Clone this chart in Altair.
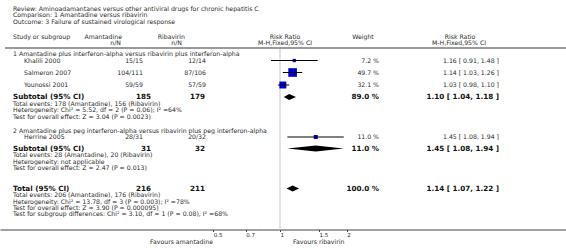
import altair as alt
import pandas as pd

W, H = 566, 248

# ---------------- data ----------------
title_lines = [
    "Review:  Aminoadamantanes versus other antiviral drugs for chronic hepatitis C",
    "Comparison:  1 Amantadine versus ribavirin",
    "Outcome:  3 Failure of sustained virological response",
]
group_titles = [
    "1 Amantadine plus interferon-alpha versus ribavirin plus interferon-alpha",
    "2 Amantadine plus peg interferon-alpha versus ribavirin plus peg interferon-alpha",
]
studies = ["Khalili 2000", "Salmeron 2007", "Younossi 2001", "Herrine 2005"]
aman_nN = ["15/15", "104/111", "59/59", "28/31"]
riba_nN = ["12/14", "87/106", "57/59", "20/32"]
weights = [7.2, 49.7, 32.1, 11.0]
rr = [1.16, 1.14, 1.03, 1.45]
rr_lo = [0.91, 1.03, 0.98, 1.08]
rr_hi = [1.48, 1.26, 1.10, 1.94]

sum_labels = ["Subtotal (95% CI)", "Subtotal (95% CI)", "Total (95% CI)"]
sum_aman = [185, 31, 216]
sum_riba = [179, 32, 211]
sum_w = [89.0, 11.0, 100.0]
sum_rr = [1.10, 1.45, 1.14]
sum_lo = [1.04, 1.08, 1.07]
sum_hi = [1.18, 1.94, 1.22]

info_g1 = [
    "Total events: 178 (Amantadine), 156 (Ribavirin)",
    "Heterogeneity: Chi² = 5.52, df = 2 (P = 0.06); I² =64%",
    "Test for overall effect: Z = 3.04 (P = 0.0023)",
]
info_g2 = [
    "Total events: 28 (Amantadine), 20 (Ribavirin)",
    "Heterogeneity: not applicable",
    "Test for overall effect: Z = 2.47 (P = 0.013)",
]
info_tot = [
    "Total events: 206 (Amantadine), 176 (Ribavirin)",
    "Heterogeneity: Chi² = 13.78, df = 3 (P = 0.003); I² =78%",
    "Test for overall effect: Z = 3.90 (P = 0.000095)",
    "Test for subgroup differences: Chi² = 3.10, df = 1 (P = 0.08), I² =68%",
]
tick_values = [0.5, 0.7, 1, 1.5, 2]

# ---------------- layout (pixel rows / columns) ----------------
y_titles = [8.5, 15, 21.5]
y_head1, y_head2, y_sep = 36.5, 42.5, 48
y_groups = [54, 131]
y_studies = [60.5, 72.5, 85, 137]
y_sums = [97, 148.5, 188.5]
LS, FIRST = 6.3, 6.9
y_info_g1 = [y_sums[0] + FIRST + LS * k for k in range(3)]
y_info_g2 = [y_sums[1] + FIRST + LS * k for k in range(3)]
y_info_tot = [y_sums[2] + FIRST + LS * k for k in range(4)]
y_axis = 229.5
y_fav = 241.5

X_LEFT, X_INDENT = 13, 24
X_AMAN, X_RIBA = 143, 206
X_AMAN_B, X_RIBA_B = 151, 205
X_W, X_RR = 379, 499

FONT = "DejaVu Sans"
REG, BOLD = 6.2, 7.2
TXT = "#2a2a2a"
TXT_B = "#111111"

xpix = alt.Scale(domain=[0, W], nice=False, zero=False)
ypix = alt.Scale(domain=[0, H], reverse=True, nice=False, zero=False)
PX_PER_DOUBLING = 66.67
X_ONE = 280
xlog = alt.Scale(type="log", nice=False,
                 domain=[2 ** (-X_ONE / PX_PER_DOUBLING), 2 ** ((W - X_ONE) / PX_PER_DOUBLING)])


def tlayer(rows, align, bold=False, size=REG, color=TXT):
    df = pd.DataFrame(rows, columns=["x", "y", "t"])
    return alt.Chart(df).mark_text(
        align=align, baseline="middle", font=FONT, fontSize=size,
        fontWeight="bold" if bold else "normal", color=color, fill=color
    ).encode(
        x=alt.X("x:Q", scale=xpix, axis=None),
        y=alt.Y("y:Q", scale=ypix, axis=None),
        text="t:N",
    )


left_reg, right_reg, center_reg, left_bold, right_bold = [], [], [], [], []

for t, y in zip(title_lines, y_titles):
    left_reg.append((X_LEFT, y, t))
left_reg.append((X_LEFT, y_head1, "Study or subgroup"))
right_reg += [(122, y_head1, "Amantadine"), (121, y_head2, "n/N"),
              (185, y_head1, "Ribavirin"), (182, y_head2, "n/N")]
center_reg += [(285, y_head1, "Risk Ratio"), (285, y_head2, "M-H,Fixed,95% CI"),
               (363, y_head1, "Weight"),
               (460, y_head1, "Risk Ratio"), (459, y_head2, "M-H,Fixed,95% CI")]
for t, y in zip(group_titles, y_groups):
    left_reg.append((X_LEFT, y, t))
for i, y in enumerate(y_studies):
    left_reg.append((X_INDENT, y, studies[i]))
    right_reg.append((X_AMAN, y, aman_nN[i]))
    right_reg.append((X_RIBA, y, riba_nN[i]))
    right_reg.append((X_W, y, f"{weights[i]:.1f} %"))
    right_reg.append((X_RR, y, f"{rr[i]:.2f} [ {rr_lo[i]:.2f}, {rr_hi[i]:.2f} ]"))
for i, y in enumerate(y_sums):
    left_bold.append((X_LEFT, y, sum_labels[i]))
    right_bold.append((X_AMAN_B, y, str(sum_aman[i])))
    right_bold.append((X_RIBA_B, y, str(sum_riba[i])))
    right_bold.append((X_W, y, f"{sum_w[i]:.1f} %"))
    right_bold.append((X_RR, y, f"{sum_rr[i]:.2f} [ {sum_lo[i]:.2f}, {sum_hi[i]:.2f} ]"))
for lines, ys in ((info_g1, y_info_g1), (info_g2, y_info_g2), (info_tot, y_info_tot)):
    for t, y in zip(lines, ys):
        left_reg.append((X_LEFT, y, t))
right_reg.append((213, y_fav, "Favours amantadine"))
left_reg.append((293, y_fav, "Favours ribavirin"))

texts = [
    tlayer(left_reg, "left"),
    tlayer(right_reg, "right"),
    tlayer(center_reg, "center"),
    tlayer(left_bold, "left", bold=True, size=BOLD, color=TXT_B),
    tlayer(right_bold, "right", bold=True, size=BOLD, color=TXT_B),
]

# header separator
sep = alt.Chart(pd.DataFrame({"a": [0]})).mark_rule(color="#9a9a9a", strokeWidth=2).encode(
    x=alt.value(5), x2=alt.value(W), y=alt.value(y_sep))

# reference line at RR = 1 carrying the log axis
ref = alt.Chart(pd.DataFrame({"x": [1], "y1": [y_sep + 1], "y2": [y_axis]})).mark_rule(
    color="#d8d8d8", strokeWidth=1.5
).encode(
    x=alt.X("x:Q", scale=xlog, axis=alt.Axis(
        values=tick_values, format="~g", orient="bottom", offset=-(H - y_axis),
        tickSize=2, tickColor="#444444", domainColor="#444444", domainWidth=1,
        labelColor=TXT, labelFont=FONT, labelFontSize=5.5, labelAlign="left",
        labelPadding=0.5, labelFlush=False, labelOverlap=False, grid=False, title=None)),
    y=alt.Y("y1:Q", scale=ypix, axis=None),
    y2="y2:Q",
)

sdf = pd.DataFrame({"lo": rr_lo, "hi": rr_hi, "rr": rr, "w": weights, "y": y_studies})
squares = alt.Chart(sdf).mark_square(filled=True, color="#0000cc", opacity=1).encode(
    x=alt.X("rr:Q", scale=xlog, axis=None),
    y=alt.Y("y:Q", scale=ypix, axis=None),
    size=alt.Size("w:Q", scale=alt.Scale(domain=[0, 100], range=[0, 150]), legend=None),
)
ci = alt.Chart(sdf).mark_rule(color="#000000", strokeWidth=1).encode(
    x=alt.X("lo:Q", scale=xlog, axis=None), x2="hi:Q",
    y=alt.Y("y:Q", scale=ypix, axis=None),
)

DH = 3
drows = []
for i, y in enumerate(y_sums):
    drows += [(i, sum_lo[i], y, y), (i, sum_rr[i], y - DH, y + DH), (i, sum_hi[i], y, y)]
ddf = pd.DataFrame(drows, columns=["g", "x", "y", "y2"])
diamonds = alt.Chart(ddf).mark_area(color="#000000", interpolate="linear", opacity=1).encode(
    x=alt.X("x:Q", scale=xlog, axis=None),
    y=alt.Y("y:Q", scale=ypix, axis=None), y2="y2:Q",
    detail="g:N",
)

chart = alt.layer(sep, ref, squares, ci, diamonds, *texts).resolve_scale(
    x="independent"
).properties(
    width=W, height=H, autosize=alt.AutoSizeParams(type="none"), padding=0,
    background="white"
).configure_view(stroke=None)

chart.save("out.html", embed_options={"renderer": "svg", "actions": False})
